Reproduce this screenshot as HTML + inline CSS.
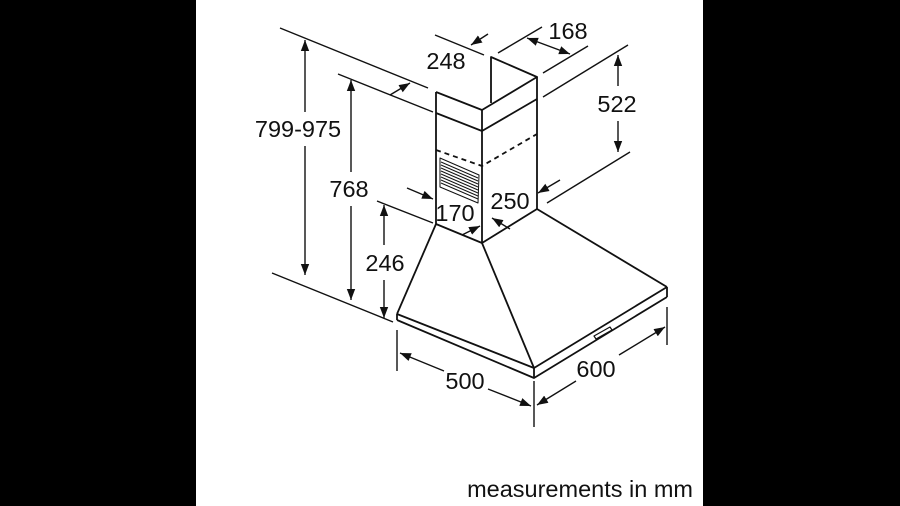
<!DOCTYPE html>
<html><head><meta charset="utf-8"><style>
html,body{margin:0;padding:0;background:#000;}
svg{display:block;}
text{font-family:"Liberation Sans",Arial,sans-serif;fill:#111;}
</style></head><body>
<svg width="900" height="506" viewBox="0 0 900 506" xmlns="http://www.w3.org/2000/svg">
<defs>
<marker id="a" viewBox="0 0 10 10" refX="10" refY="5" markerWidth="11" markerHeight="11" orient="auto-start-reverse" markerUnits="userSpaceOnUse">
<path d="M0,1.2 L10,5 L0,8.8 z" fill="#111"/></marker>
</defs>
<rect x="0" y="0" width="900" height="506" fill="#000"/>
<rect x="196" y="0" width="507" height="506" fill="#fff"/>
<g stroke="#111" stroke-width="1.8" fill="none" stroke-linejoin="round">
<polyline points="491,103 491,57 537,77 482,110 436,92"/>
<line x1="436" y1="92" x2="436" y2="224"/>
<line x1="482" y1="110" x2="482" y2="243"/>
<line x1="537" y1="77" x2="537" y2="209"/>
<polyline points="436,113 482,131 537,99"/>
<polyline points="436,150 482,166 537,134" stroke-dasharray="5,4"/>
<polyline points="436,224 482,243 537,209"/>
<polygon points="440,158 479,175 478,203 440,187" stroke-width="1"/>
<g stroke-width="1">
<line x1="441" y1="162" x2="478" y2="178"/><line x1="441" y1="165" x2="478" y2="181"/>
<line x1="441" y1="168" x2="478" y2="184"/><line x1="441" y1="171" x2="478" y2="187"/>
<line x1="441" y1="174" x2="478" y2="190"/><line x1="441" y1="177" x2="478" y2="193"/>
<line x1="441" y1="180" x2="478" y2="196"/><line x1="441" y1="183" x2="478" y2="199"/>
</g>
<line x1="436" y1="224" x2="397" y2="314"/>
<line x1="482" y1="243" x2="534" y2="368"/>
<line x1="537" y1="209" x2="667" y2="287"/>
<polyline points="397,314 534,368 667,287"/>
<polyline points="397,320 534,378 667,297"/>
<line x1="397" y1="314" x2="397" y2="320"/>
<line x1="534" y1="368" x2="534" y2="378"/>
<line x1="667" y1="287" x2="667" y2="297"/>
<polygon points="594,336 610,327 612,330 596,339" stroke-width="1.2"/>
<line x1="272" y1="273" x2="393" y2="322" stroke-width="1.4"/>
<g stroke-width="1.4">
<line x1="280" y1="28" x2="428" y2="88"/>
<line x1="338" y1="74" x2="433" y2="112"/>
<line x1="377" y1="201" x2="433" y2="223"/>
<line x1="435" y1="35" x2="484" y2="55"/>
<line x1="498" y1="53" x2="542" y2="27"/>
<line x1="543" y1="73" x2="588" y2="46"/>
<line x1="543" y1="97" x2="628" y2="45"/>
<line x1="547" y1="203" x2="630" y2="152"/>
<line x1="397" y1="330" x2="397" y2="371"/>
<line x1="534" y1="381" x2="534" y2="427"/>
<line x1="667" y1="307" x2="667" y2="345"/>
</g>
<g stroke-width="1.4">
<line x1="305" y1="40" x2="305" y2="112" marker-start="url(#a)"/>
<line x1="305" y1="146" x2="305" y2="275" marker-end="url(#a)"/>
<line x1="351" y1="80" x2="351" y2="172" marker-start="url(#a)"/>
<line x1="351" y1="206" x2="351" y2="300" marker-end="url(#a)"/>
<line x1="384" y1="205" x2="384" y2="245" marker-start="url(#a)"/>
<line x1="384" y1="280" x2="384" y2="318" marker-end="url(#a)"/>
<line x1="618" y1="55" x2="618" y2="86" marker-start="url(#a)"/>
<line x1="618" y1="121" x2="618" y2="152" marker-end="url(#a)"/>
<line x1="400" y1="353" x2="444" y2="371" marker-start="url(#a)"/>
<line x1="488" y1="389" x2="531" y2="406" marker-end="url(#a)"/>
<line x1="537" y1="405" x2="576" y2="381" marker-start="url(#a)"/>
<line x1="619" y1="355" x2="665" y2="327" marker-end="url(#a)"/>
<line x1="527" y1="38" x2="570" y2="54" marker-start="url(#a)" marker-end="url(#a)"/>
<line x1="488" y1="34" x2="471" y2="45" marker-end="url(#a)"/>
<line x1="390" y1="95" x2="410" y2="83" marker-end="url(#a)"/>
<line x1="560" y1="180" x2="538" y2="193" marker-end="url(#a)"/>
<line x1="510" y1="229" x2="492" y2="218" marker-end="url(#a)"/>
<line x1="407" y1="188" x2="433" y2="199" marker-end="url(#a)"/>
<line x1="462" y1="235" x2="480" y2="226" marker-end="url(#a)"/>
</g>
</g>
<g font-size="23.5">
<text x="298" y="137" text-anchor="middle">799-975</text>
<text x="349" y="197" text-anchor="middle">768</text>
<text x="385" y="271" text-anchor="middle">246</text>
<text x="446" y="69" text-anchor="middle">248</text>
<text x="568" y="39" text-anchor="middle">168</text>
<text x="617" y="112" text-anchor="middle">522</text>
<text x="510" y="209" text-anchor="middle">250</text>
<text x="455" y="221" text-anchor="middle">170</text>
<text x="465" y="389" text-anchor="middle">500</text>
<text x="596" y="377" text-anchor="middle">600</text>
<text x="693" y="497" text-anchor="end">measurements in mm</text>
</g>
</svg>
</body></html>
